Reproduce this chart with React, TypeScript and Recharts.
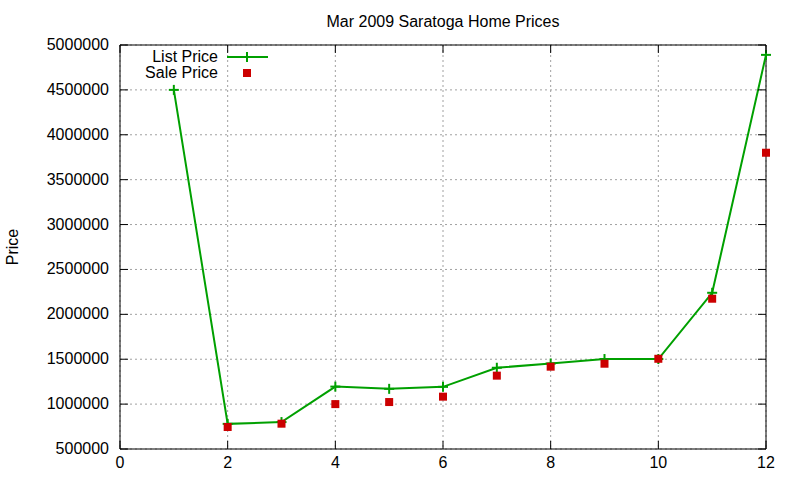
import React from "react";
import {
  ComposedChart,
  Line,
  XAxis,
  YAxis,
  CartesianGrid,
  ReferenceArea,
  Legend,
} from "recharts";

// months (x), list and sale prices
const MONTHS = [1, 2, 3, 4, 5, 6, 7, 8, 9, 10, 11, 12];
const LIST_PRICE = [4500000, 780000, 800000, 1195000, 1170000, 1192000, 1405000, 1452000, 1502000, 1502000, 2240000, 4890000];
const SALE_PRICE = [4500000, 745000, 782000, 1000000, 1023000, 1083000, 1317000, 1417000, 1450000, 1505000, 2174000, 3800000];
const X_TICKS = [0, 2, 4, 6, 8, 10, 12];
const Y_TICKS = [500000, 1000000, 1500000, 2000000, 2500000, 3000000, 3500000, 4000000, 4500000, 5000000];

const data = MONTHS.map((m, i) => ({
  month: m,
  list: LIST_PRICE[i],
  sale: i === 0 ? null : SALE_PRICE[i],
}));

const FONT = "'Liberation Sans', Arial, sans-serif";
const GREEN = "#00a000";
const RED = "#cc0000";
const W = 800;
const H = 480;
const PLOT_TOP = 45;
const PLOT_BOTTOM = 449;
const PLOT_LEFT = 120;
const PLOT_RIGHT = 766;

function XTick({ x, payload }: any) {
  return (
    <g>
      <line x1={x} x2={x} y1={PLOT_BOTTOM} y2={PLOT_BOTTOM - 8} stroke="#000" />
      <line x1={x} x2={x} y1={PLOT_TOP} y2={PLOT_TOP + 8} stroke="#000" />
      <text x={x} y={PLOT_BOTTOM + 19} textAnchor="middle" fontSize={16} fontFamily={FONT} fill="#000">
        {payload.value}
      </text>
    </g>
  );
}

function YTick({ y, payload }: any) {
  return (
    <g>
      <line x1={PLOT_LEFT} x2={PLOT_LEFT + 8} y1={y} y2={y} stroke="#000" />
      <line x1={PLOT_RIGHT} x2={PLOT_RIGHT - 8} y1={y} y2={y} stroke="#000" />
      <text x={PLOT_LEFT - 11} y={y + 5} textAnchor="end" fontSize={16} fontFamily={FONT} fill="#000">
        {payload.value}
      </text>
    </g>
  );
}

function PlusDot({ cx, cy }: any) {
  if (cx == null || cy == null) return null;
  return (
    <g>
      <line x1={cx - 5} x2={cx + 5} y1={cy} y2={cy} stroke={GREEN} strokeWidth={2} />
      <line x1={cx} x2={cx} y1={cy - 5} y2={cy + 5} stroke={GREEN} strokeWidth={2} />
    </g>
  );
}

function SquareDot({ cx, cy }: any) {
  if (cx == null || cy == null) return null;
  return <rect x={cx - 4} y={cy - 4} width={8} height={8} fill={RED} />;
}

function KeyContent() {
  const row = { display: "flex", alignItems: "center", height: 16 } as const;
  const label = { width: 78, textAlign: "right", fontSize: 16, fontFamily: FONT, color: "#000" } as const;
  return (
    <div>
      <div style={row}>
        <span style={label}>List Price</span>
        <svg width={52} height={16} style={{ marginLeft: 9 }}>
          <line x1={0} x2={41} y1={8} y2={8} stroke={GREEN} strokeWidth={2} />
          <line x1={15} x2={25} y1={8} y2={8} stroke={GREEN} strokeWidth={2} />
          <line x1={20} x2={20} y1={3} y2={13} stroke={GREEN} strokeWidth={2} />
        </svg>
      </div>
      <div style={row}>
        <span style={label}>Sale Price</span>
        <svg width={52} height={16} style={{ marginLeft: 9 }}>
          <rect x={16} y={4} width={8} height={8} fill={RED} />
        </svg>
      </div>
    </div>
  );
}

export default function App() {
  return (
    <div style={{ position: "absolute", left: 0, top: 0, width: W, height: H, background: "#fff" }}>
      <div
        style={{
          position: "absolute",
          top: 12,
          left: PLOT_LEFT,
          width: PLOT_RIGHT - PLOT_LEFT,
          textAlign: "center",
          fontFamily: FONT,
          fontSize: 16,
          lineHeight: "20px",
          zIndex: 1,
        }}
      >
        Mar 2009 Saratoga Home Prices
      </div>
      <ComposedChart width={W} height={H} data={data} margin={{ top: PLOT_TOP, right: W - PLOT_RIGHT, bottom: 0, left: 0 }}>
        <CartesianGrid stroke="#a0a0a0" strokeDasharray="2 3" horizontalValues={Y_TICKS} verticalValues={X_TICKS} />
        <XAxis
          dataKey="month"
          type="number"
          domain={[0, 12]}
          ticks={X_TICKS}
          height={H - PLOT_BOTTOM}
          tickLine={false}
          axisLine={false}
          tick={<XTick />}
          interval={0}
        />
        <YAxis
          type="number"
          domain={[500000, 5000000]}
          ticks={Y_TICKS}
          width={PLOT_LEFT}
          tickLine={false}
          axisLine={false}
          tick={<YTick />}
          interval={0}
          label={{
            content: () => (
              <text
                x={18}
                y={(PLOT_TOP + PLOT_BOTTOM) / 2}
                transform={`rotate(-90 18 ${(PLOT_TOP + PLOT_BOTTOM) / 2})`}
                textAnchor="middle"
                fontSize={16}
                fontFamily={FONT}
                fill="#000"
              >
                Price
              </text>
            ),
          }}
        />
        <ReferenceArea x1={0} x2={12} y1={500000} y2={5000000} fill="none" stroke="#000" strokeWidth={1} />
        <Legend
          layout="vertical"
          align="center"
          verticalAlign="middle"
          content={<KeyContent />}
          wrapperStyle={{ position: "absolute", top: 49, left: 140, width: 140 }}
        />
        <Line
          dataKey="list"
          name="List Price"
          stroke={GREEN}
          strokeWidth={2}
          dot={<PlusDot />}
          activeDot={false}
          isAnimationActive={false}
        />
        <Line
          dataKey="sale"
          name="Sale Price"
          stroke="none"
          dot={<SquareDot />}
          activeDot={false}
          connectNulls={false}
          isAnimationActive={false}
        />
      </ComposedChart>
    </div>
  );
}
